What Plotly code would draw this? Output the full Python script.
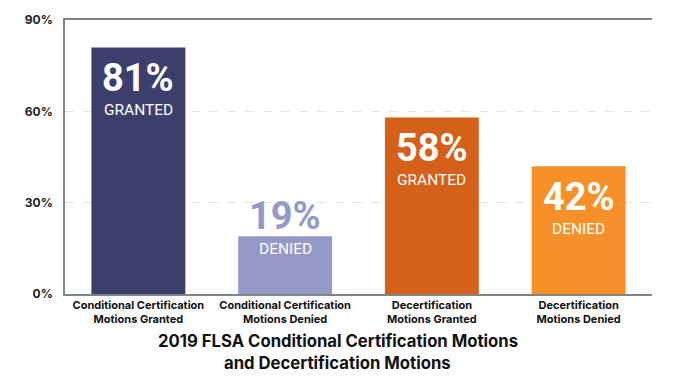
import plotly.graph_objects as go

categories = ["Conditional Certification<br>Motions Granted",
              "Conditional Certification<br>Motions Denied",
              "Decertification<br>Motions Granted",
              "Decertification<br>Motions Denied"]
values = [81, 19, 58, 42]
value_labels = ["81%", "19%", "58%", "42%"]
status_labels = ["GRANTED", "DENIED", "GRANTED", "DENIED"]
colors = ["#3c3f6b", "#9499c7", "#d4601a", "#f8902a"]
tick_vals = [0, 30, 60, 90]
tick_text = ["0%", "30%", "60%", "90%"]
title_lines = ["2019 FLSA Conditional Certification Motions", "and Decertification Motions"]

fig = go.Figure(go.Bar(x=list(range(len(categories))), y=values,
                       marker=dict(color=colors, line=dict(width=0)),
                       hoverinfo="skip"))

annotations = []
for i, (v, vl, sl, c) in enumerate(zip(values, value_labels, status_labels, colors)):
    outside = v < 25
    annotations.append(dict(x=i, y=v, xref="x", yref="y", text=f"<b>{vl}</b>",
                            showarrow=False, yanchor="middle", height=32,
                            yshift=20 if outside else -31,
                            font=dict(family="Roboto", size=38, color=c if outside else "white")))
    annotations.append(dict(x=i, y=v, xref="x", yref="y", text=sl,
                            showarrow=False, yanchor="middle", height=15,
                            yshift=-12 if outside else -62,
                            font=dict(family="Roboto", size=15.5, color="white")))

for line, ty in zip(title_lines, [-0.173, -0.252]):
    annotations.append(dict(x=0.465, y=ty, xref="paper", yref="paper",
                            text=f"<b>{line}</b>", showarrow=False, yanchor="middle",
                            font=dict(family="Inter", size=16.7, color="#111")))

fig.update_layout(
    width=681, height=369,
    margin=dict(l=57, r=37, t=12, b=83, autoexpand=False),
    paper_bgcolor="white", plot_bgcolor="white",
    bargap=0.36, showlegend=False,
    annotations=annotations,
    xaxis=dict(range=[-0.5, 3.5], tickvals=list(range(len(categories))),
               ticktext=[f"<b>{c}</b>" for c in categories], automargin=False,
               showline=True, mirror=True, linecolor="#7d8585", linewidth=1.5, showgrid=False,
               ticks="", tickfont=dict(family="Inter", size=11, color="#111"), fixedrange=True),
    yaxis=dict(range=[0, 90], tickvals=tick_vals, ticktext=[f"<b>{t}</b>" for t in tick_text],
               showline=True, linecolor="#7d8585", linewidth=1.5, automargin=False,
               showgrid=True, gridcolor="#e4e4e4", griddash="dash", gridwidth=1,
               zeroline=False, ticks="outside", ticklen=8, tickcolor="rgba(0,0,0,0)",
               tickfont=dict(family="Inter", size=12, color="#222"),
               fixedrange=True),
)

fig.write_html("out.html")
